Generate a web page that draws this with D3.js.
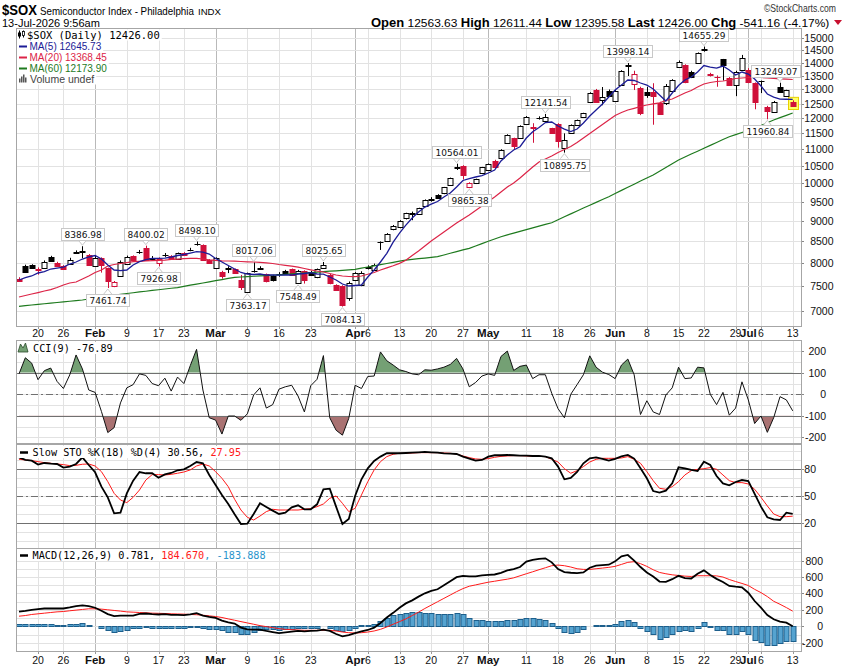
<!DOCTYPE html>
<html><head><meta charset="utf-8">
<script src="https://cdn.jsdelivr.net/npm/d3@7"></script>
<style>body{margin:0;background:#fff}svg{display:block}</style>
</head><body><svg id="c" width="850" height="668"></svg>
<script>
// ---------------- DATA ----------------
const dates = [
"01-14","01-15","01-16","01-20","01-21","01-22","01-23","01-26","01-27","01-28","01-29","01-30",
"02-02","02-03","02-04","02-05","02-06","02-09","02-10","02-11","02-12","02-13","02-17","02-18","02-19","02-20","02-23","02-24","02-25","02-26","02-27",
"03-02","03-03","03-04","03-05","03-06","03-09","03-10","03-11","03-12","03-13","03-16","03-17","03-18","03-19","03-20","03-23","03-24","03-25","03-26","03-27","03-30","03-31",
"04-01","04-02","04-06","04-07","04-08","04-09","04-10","04-13","04-14","04-15","04-16","04-17","04-20","04-21","04-22","04-23","04-24","04-27","04-28","04-29","04-30",
"05-01","05-04","05-05","05-06","05-07","05-08","05-11","05-12","05-13","05-14","05-15","05-18","05-19","05-20","05-21","05-22","05-26","05-27","05-28","05-29",
"06-01","06-02","06-03","06-04","06-05","06-08","06-09","06-10","06-11","06-12","06-15","06-16","06-17","06-18","06-22","06-23","06-24","06-25","06-26","06-29","06-30",
"07-01","07-02","07-06","07-07","07-08","07-09","07-10","07-13"];

const priorClose = 7700;
const open = [
7660,7935,7950,7860,7885,8144,8010,7935,7990,8240,
8262,8190,7935,8110,7885,7500,7710,7980,8160,8245,
8340,8100,8000,8175,8160,8090,8230,8300,8430,8416,
8069,7885,7810,7875,7860,7640,7370,7820,7875,7750,
7720,7760,7830,7862,7560,7820,7800,7688,7885,7740,
7525,7504,7250,7640,7520,7890,7847,8480,8517,8792,
8843,9067,9190,9180,9385,9550,9680,9724,9953,10440,
10496,9905,10000,10300,10380,10650,10720,11200,11340,11340,
11800,11700,11990,11920,11660,11800,11030,11520,11770,12030,
12560,12980,12640,12950,12590,13160,13900,13200,13040,12920,
12900,12510,12510,12950,13855,13930,13660,14010,14530,13560,
13470,14140,13410,13170,13730,13730,13230,13300,12370,12220,
13100,12765,12563.63];
const high = [
7690,7965,7975,7905,8060,8165,8030,7955,8120,8290,
8386.98,8205,8160,8130,7900,7610,8060,8170,8175,8300,
8400.02,8160,8130,8230,8180,8240,8250,8350,8498.10,8430,
8090,8130,7830,7930,7880,7740,7790,8017.06,7930,7770,
7740,7800,7850,7880,7850,7840,7830,7880,8025.65,7760,
7540,7520,7600,7800,7820,7950,7990,8500,8700,8900,
9020,9210,9240,9340,9560,9620,9700,9900,10160,10564.01,
10520,10030,10130,10470,10570,10680,11000,11470,11360,11760,
12070,11830,12060,12141.54,11680,11830,11500,11790,11950,12180,
12900,13020,13090,13000,12980,13720,13998.14,13700,13100,13100,
13230,12560,13200,13380,14100,13950,13700,14420,14655.29,13620,
13520,14160,13460,13700,14320,13800,13260,13330,12420,12590,
13249.07,12990,12611.44];
const low = [
7590,7790,7870,7745,7870,8025,7920,7850,7970,8215,
8110,7940,7920,7790,7461.74,7480,7700,7960,8050,8210,
8050,8060,7926.98,8140,8080,8070,8160,8270,8400,8050,
7980,7870,7660,7780,7760,7420,7363.17,7790,7850,7580,
7600,7700,7760,7720,7548.49,7555,7720,7670,7870,7540,
7400,7084.13,7200,7620,7500,7860,7830,8300,8500,8770,
8820,9040,9020,9160,9360,9500,9580,9700,9930,10380,
10110,9865.38,9980,10280,10360,10440,10700,11180,11000,11320,
11780,11200,11950,11900,11480,11050,10895.75,11500,11750,12010,
12540,12540,12440,12730,12560,13140,13500,12980,12100,12700,
11780,12120,12450,12920,13830,13230,13420,13990,14450,13480,
13100,13330,13140,12760,13700,13230,12300,12870,11960.84,12200,
12880,12740,12395.58];
const close = [
7620,7810,7885,7850,8032,8040,7935,7870,8080,8250,
8270,7957,8108,7960,7610,7590,8032,8144,8069,8250,
8069,8108,8090,8183,8090,8220,8183,8310,8445,8069,
8000,8108,7710,7885,7780,7480,7775,7830,7885,7610,
7630,7770,7790,7740,7830,7630,7740,7862,7957,7561,
7420,7120,7561,7775,7790,7906,7957,8494,8671,8875,
9007,9195,9200,9325,9544,9560,9590,9889,10140,10457,
10240,10017,10110,10457,10555,10460,10980,11450,11100,11740,
12050,11680,12000,12050,11500,11265,11290,11770,11935,12160,
12860,12560,12740,12770,12950,13690,13930,13580,12180,12800,
12750,12140,13130,13350,14050,13290,13450,14380,14540,13540,
13450,13930,13170,13660,14180,13290,12560,13310,12250,12560,
12920,12967.16,12426.00];

const ma5 = [
7631,7684,7717,7782,7810,7869,7891,7913,7980,8025,
8092,8138,8172,8092,7957,7847,7836,7847,7957,8032,
8081,8108,8108,8112,8138,8172,8195,8229,8259,8252,
8205,8103,8025,7946,7869,7793,7760,7749,7760,7738,
7738,7736,7740,7738,7760,7771,7789,7760,7758,7695,
7631,7546,7504,7515,7525,7695,7847,8025,8223,8484,
8702,8897,9075,9229,9358,9437,9504,9624,9733,9897,
10079,10135,10178,10220,10292,10379,10644,10823,10976,11077,
11350,11552,11688,11853,11870,11738,11639,11559,11639,11837,
12071,12275,12483,12729,12981,13164,13350,13331,13238,13164,
13017,12801,12588,12873,13145,13350,13462,13651,13901,13843,
13804,13882,13727,13537,13651,13575,13387,13127,12837,12729,
12658,12650,12645.73];
const ma20 = [
7276,7307,7338,7368,7400,7430,7472,7525,7567,7588,
7652,7717,7793,7847,7935,7969,7991,8013,8032,8041,
8048,8055,8061,8069,8081,8092,8099,8108,8108,8092,
8074,8061,8052,8048,8043,8036,8030,8025,8018,8007,
7991,7969,7951,7931,7909,7880,7852,7825,7804,7771,
7738,7717,7706,7702,7717,7754,7793,7847,7895,7940,
7995,8065,8172,8275,8391,8510,8617,8727,8837,8949,
9050,9152,9268,9385,9504,9624,9760,9897,10008,10149,
10307,10467,10614,10704,10793,10899,10991,11084,11209,11350,
11494,11639,11787,11936,12088,12189,12275,12333,12396,12448,
12490,12524,12605,12658,12765,12873,12963,13091,13201,13256,
13294,13312,13350,13406,13425,13444,13451,13444,13425,13413,
13394,13380,13368.45];
const ma60 = [
7090,7102,7116,7128,7141,7153,7166,7178,7191,7203,
7216,7236,7254,7273,7293,7311,7330,7348,7364,7380,
7395,7411,7426,7442,7457,7472,7496,7521,7544,7568,
7593,7616,7641,7664,7688,7695,7703,7711,7718,7726,
7733,7740,7750,7761,7770,7780,7791,7800,7810,7821,
7830,7840,7851,7862,7888,7913,7940,7966,7991,8018,
8044,8069,8084,8100,8114,8130,8145,8184,8223,8261,
8300,8338,8393,8449,8503,8558,8613,8656,8700,8742,
8785,8829,8871,8914,8957,9032,9108,9182,9257,9333,
9407,9482,9558,9632,9718,9805,9890,9976,10063,10148,
10235,10345,10455,10564,10673,10762,10852,10940,11029,11120,
11211,11302,11392,11460,11528,11596,11663,11754,11845,11936,
12015,12094,12173.90];

const cci = [
95,170,145,68,110,122,60,27,90,183,
118,20,9,-80,-178,-155,-40,30,45,95,
88,50,40,75,15,80,50,133,209,20,
-109,-120,-185,-101,-101,-121,-91,-3,30,-64,
-48,24,35,42,-8,-82,40,70,180,-109,
-167,-190,-112,42,27,83,85,197,156,136,
114,106,95,91,114,112,118,126,139,167,
118,35,55,85,95,88,176,201,111,130,
136,73,91,91,5,-67,-109,0,45,91,
179,126,103,92,73,136,164,91,-94,-30,
-82,-94,-3,30,126,73,76,126,123,0,
-48,9,-97,-64,58,-26,-136,-101,-177,-109,
-11,-26,-76.89];

const stoK = [
93.3,90.4,89.6,85.2,87,86.3,85.9,81.9,83,85.9,
93.3,84.8,76.7,60.7,48.9,31.1,31.9,53.3,67.4,77,
75.6,75.6,70.7,74.4,75.9,78.9,80,83.7,88.1,86.7,
73.7,62.6,51.5,41.5,30,19.3,19.6,30.4,42.2,38.1,
34.1,30.4,31.9,37.8,40,35.6,35.6,41.1,57.8,58.5,
38.5,19.3,24.8,50.4,68.9,81.1,89.3,94.1,97.8,97.8,
97.8,98.1,98.5,98.9,99.3,98.9,98.5,97.8,97.4,97,
94.1,91.9,89.6,90.4,94.1,95.6,95.6,95.9,95.6,95.2,
95.2,94.8,94.8,94.1,92.2,83,68.9,70.4,77,86.7,
92.2,93.3,91.5,89.6,91.5,94.4,95.9,91.9,81.1,70,
55.9,54.1,56.3,64.4,82.2,81.1,79.3,78.1,88.5,84.8,
72.6,64.4,62.2,65.9,68.1,67,52.6,38.5,26.7,24.4,
23.7,31.9,30.56];
const stoD = [
91.1,90.4,89.6,88.5,87.4,86.7,85.9,85.2,84.1,84.4,
85.6,85.9,83.7,77.4,66.3,53.3,45.9,43,48.9,57,
68.1,74.1,74.1,73.7,74.4,75.6,77,79.3,83.7,85.9,
83.7,77.4,70,60.7,46.7,34.8,26.7,23.7,28.1,33,
35.6,34.8,34.8,34.8,34.8,35.6,36.3,38.5,41.5,47.8,
50.4,42.2,33,36.7,51.5,66.3,79.3,88.5,94.1,96.7,
97.8,97.8,98.1,98.5,98.5,98.5,98.5,98.1,97.8,97,
94.8,93,91.5,91.1,91.9,93.3,94.4,94.8,95.2,95.2,
94.8,94.4,94.4,94.1,91.1,88.1,80.7,75.6,78.5,83,
88.1,91.1,92.2,92.2,92.2,92.6,94.1,91.1,86.7,77.4,
67.4,58.9,57.8,60.7,66.3,73.7,78.5,80,80.7,81.9,
80,73.7,67.4,65.2,65.2,63.7,57.8,48.9,39.3,30.4,
27.4,27.4,27.95];

const macd = [
180,189,201,209,217,217,217,217,230,246,
254,246,226,189,148,123,131,131,131,152,
156,148,144,148,139,139,135,144,160,131,
115,103,70,49,33,-16,-37,-41,-41,-57,
-70,-82,-74,-66,-57,-62,-57,-53,-41,-57,
-94,-123,-107,-82,-62,-45,-16,41,107,164,
226,279,316,361,402,431,451,500,549,599,
615,607,607,619,627,631,652,681,697,722,
787,808,820,828,779,697,660,652,648,656,
713,738,746,750,791,853,869,800,722,656,
607,545,541,574,615,586,582,640,681,625,
578,540,491,482,475,409,308,227,138,85,
56,44,0.781];
const macdSignal = [
123,131,144,152,160,168,176,180,189,197,
205,213,213,209,201,193,185,176,172,168,
164,160,158,156,152,150,148,144,141,135,
127,119,107,90,74,57,41,25,8,-4,
-16,-29,-37,-41,-45,-49,-49,-49,-49,-49,
-57,-70,-78,-82,-78,-70,-57,-37,-8,25,
57,90,131,172,217,258,299,340,381,422,
459,488,504,521,537,549,562,574,590,615,
640,664,689,713,738,746,738,722,701,693,
693,701,709,718,730,754,779,787,763,730,
689,656,640,627,619,611,607,616,616,616,
614,600,570,545,522,497,450,410,362,305,
268,228,184.670];
const macdHist = [
33,33,33,33,29,29,20,16,25,25,
37,12,0,-25,-49,-74,-57,-41,-25,-16,
-12,-16,-16,-16,-20,-20,-20,-12,-8,-16,
-29,-33,-49,-70,-74,-98,-90,-66,-41,-33,
-33,-41,-33,-29,-20,-25,-20,-16,8,-16,
-41,-57,-49,-20,12,20,33,66,107,135,
152,164,172,172,168,164,148,148,148,156,
144,107,82,74,66,62,66,74,82,90,
107,98,86,74,41,-16,-74,-78,-66,-33,
8,16,20,20,33,62,82,57,-16,-57,
-98,-156,-131,-90,-57,-49,-53,-16,53,-10,
-45,-45,-94,-94,-57,-94,-167,-187,-228,-228,
-207,-175,-183.888];

const priceTicks = [7000,7500,8000,8500,9000,9500,10000,10500,11000,11500,12000,12500,13000,13500,14000,14500,15000];
const cciTicks = [-200,-100,0,100,200];
const cciGrid = [-200,-150,-100,-50,0,50,100,150,200];
const stoTicks = [20,50,80];
const stoGrid = [0,10,20,30,40,50,60,70,80,90,100];
const macdTicks = [-200,0,200,400,600,800];
const macdGrid = [-300,-200,-100,0,100,200,300,400,500,600,700,800,900];
const tickDates = ["01-20","01-26","02-02","02-09","02-17","02-23","03-02","03-09","03-16","03-23","04-01","04-06","04-13","04-20","04-27","05-01","05-11","05-18","05-26","06-01","06-08","06-15","06-22","06-29","07-01","07-06","07-13"];
const tickLabels = ["20","26","Feb","9","17","23","Mar","9","16","23","Apr","6","13","20","27","May","11","18","26","Jun","8","15","22","29","Jul","6","13"];
const highLabelIdx = [10,20,28,37,48,69,83,96,108,120];
const lowLabelIdx = [14,22,36,44,51,71,86,118];

// ---------------- LAYOUT / STYLE ----------------
const X0 = 16, X1 = 801;
const PR = {top:28, bottom:326}, CC = {top:340, bottom:443}, ST = {top:444, bottom:548}, MC = {top:548, bottom:651};
const RED = "#d0103a", BLK = "#000000";
const fSans = "'Liberation Sans', Arial, Helvetica, sans-serif";
const fNarrow = "'Liberation Sans Narrow','Arial Narrow','Liberation Sans',sans-serif";
const fMono = "'DejaVu Sans Mono','Liberation Mono',monospace";
const fAnn = "'DejaVu Sans', Verdana, sans-serif";
const GRID = "#e2e2e2", GRIDM = "#b9b9b9", FRAME = "#a6a6a6", REF = "#707070";

const svg = d3.select("#c");
svg.append("rect").attr("width",850).attr("height",668).attr("fill","#fff");

const x = d3.scalePoint().domain(dates).range([19, 792.7]);
const yP = d3.scaleLog().domain([6710, 15439]).range([PR.bottom, PR.top]);
const yC = d3.scaleLinear().domain([-226.5, 252.6]).range([CC.bottom, CC.top]);
const yS = d3.scaleLinear().domain([-7.4, 108.1]).range([ST.bottom, ST.top]);
const yM = d3.scaleLinear().domain([-300.9, 953.7]).range([MC.bottom, MC.top]);
const px = d => Math.round(x(d)) + 0.5;

const panels = [PR, CC, ST, MC];

// vertical gridlines
panels.forEach(p => {
  const g = svg.append("g");
  tickDates.forEach((d,i) => {
    const month = isNaN(+tickLabels[i]);
    g.append("line").attr("x1",px(d)).attr("x2",px(d)).attr("y1",p.top).attr("y2",p.bottom)
      .attr("stroke", month ? GRIDM : GRID).attr("stroke-width",1);
  });
});

function hgrid(vals, sc, p){
  const g = svg.append("g");
  vals.forEach(v => {
    const yy = Math.round(sc(v)) + 0.5;
    if (yy < p.top || yy > p.bottom) return;
    g.append("line").attr("x1",X0).attr("x2",X1).attr("y1",yy).attr("y2",yy).attr("stroke",GRID);
  });
}
hgrid(priceTicks, yP, PR);
hgrid(cciGrid, yC, CC);
hgrid(stoGrid, yS, ST);
hgrid(macdGrid, yM, MC);

function refLine(v, sc, dash){
  const yy = Math.round(sc(v)) + 0.5;
  svg.append("line").attr("x1",X0).attr("x2",X1).attr("y1",yy).attr("y2",yy)
    .attr("stroke",REF).attr("stroke-width",1).attr("stroke-dasharray", dash ? "7,3,2,3" : null);
}

// right axis labels
function yLabels(vals, sc, xr){
  const g = svg.append("g").attr("font-family",fSans).attr("font-size","10.5px").attr("fill","#111");
  vals.forEach(v => {
    const yy = Math.round(sc(v)) + 0.5;
    g.append("line").attr("x1",X1).attr("x2",X1+3).attr("y1",yy).attr("y2",yy).attr("stroke","#888");
    g.append("text").attr("x",xr).attr("y",yy+3.8).attr("text-anchor","end").text(v);
  });
}
yLabels(priceTicks, yP, 833.5);
yLabels(cciTicks, yC, 826);
yLabels(stoTicks, yS, 816);
yLabels(macdTicks, yM, 823);

// x axis labels
function xLabels(yBase, p){
  const g = svg.append("g").attr("font-family",fSans).attr("fill","#111").attr("text-anchor","middle");
  tickDates.forEach((d,i) => {
    const month = isNaN(+tickLabels[i]);
    g.append("line").attr("x1",px(d)).attr("x2",px(d)).attr("y1",p.bottom).attr("y2",p.bottom+3).attr("stroke","#999");
    g.append("text").attr("x",x(d)).attr("y",yBase)
      .attr("font-size", month ? "11.5px" : "10.5px").attr("font-weight", month ? "bold" : "normal")
      .text(tickLabels[i]);
  });
}
xLabels(337, PR);
xLabels(664, MC);

// ---------------- PRICE PANEL ----------------
const gP = svg.append("g");
{
  const k = dates.length-1, cx = px(dates[k]);
  gP.append("rect").attr("x",cx-5).attr("y",yP(high[k])-3).attr("width",10).attr("height",yP(low[k])-yP(high[k])+6)
    .attr("fill","#ffff66").attr("stroke","#e8d000").attr("stroke-width",1);
}
dates.forEach((d,k) => {
  const o=open[k], h=high[k], l=low[k], c=close[k];
  const pc = k===0 ? priorClose : close[k-1];
  const col = c < pc ? RED : BLK;
  const cx = px(d);
  gP.append("line").attr("x1",cx).attr("x2",cx).attr("y1",yP(h)).attr("y2",yP(l)).attr("stroke",col);
  const t = Math.round(yP(Math.max(o,c))), b = Math.round(yP(Math.min(o,c)));
  if (b - t < 1) {
    gP.append("line").attr("x1",cx-3).attr("x2",cx+3).attr("y1",t+0.5).attr("y2",t+0.5).attr("stroke",col);
  } else {
    gP.append("rect").attr("x",cx-2.5).attr("y",t+0.5).attr("width",5).attr("height",b-t)
      .attr("fill", c > o ? "#fff" : col).attr("stroke",col).attr("stroke-width",1);
  }
});
const line = (arr, sc) => d3.line().x((v,i)=>x(dates[i])).y(v=>sc(v))(arr);
gP.append("path").attr("d",line(ma60,yP)).attr("fill","none").attr("stroke","#1e7a1e").attr("stroke-width",1.2);
gP.append("path").attr("d",line(ma20,yP)).attr("fill","none").attr("stroke","#dc2447").attr("stroke-width",1.2);
gP.append("path").attr("d",line(ma5,yP)).attr("fill","none").attr("stroke","#1c1c96").attr("stroke-width",1.3);

// annotation labels
const fmt = d3.format(".2f");
function annot(k, isHigh){
  const v = isHigh ? high[k] : low[k];
  const cx = x(dates[k]);
  const yv = yP(v);
  const g = svg.append("g");
  const t = g.append("text").attr("font-family",fAnn).attr("font-size","9px").attr("fill","#111").text(fmt(v));
  const tw = t.node().getComputedTextLength();
  const bw = tw + 6, bh = 12;
  let bx = cx - bw/2;
  bx = Math.min(bx, X1 - bw - 1);
  const by = isHigh ? yv - 6 - bh : yv + 6;
  const tipY = isHigh ? yv - 1 : yv + 1;
  const baseY = isHigh ? by + bh : by;
  g.insert("path","text").attr("d",`M${cx-4},${baseY} L${cx},${tipY} L${cx+4},${baseY}`)
    .attr("fill","#fff").attr("stroke","#c8c8c8");
  g.insert("rect","text").attr("x",Math.round(bx)+0.5).attr("y",Math.round(by)+0.5).attr("width",Math.round(bw)).attr("height",bh)
    .attr("fill","#fff").attr("stroke","#c8c8c8");
  t.attr("x",Math.round(bx)+0.5+bw/2).attr("y",Math.round(by)+9.5).attr("text-anchor","middle");
}
highLabelIdx.forEach(k=>annot(k,true));
lowLabelIdx.forEach(k=>annot(k,false));

// price legend
{
  const g = svg.append("g");
  const rows = [
    {txt:"$SOX (Daily) 12426.00", col:"#000", font:fMono, size:"10.5px", y:38.5, tx:27},
    {txt:"MA(5) 12645.73", col:"#1c1c96", font:fSans, size:"10px", y:50, tx:29.5},
    {txt:"MA(20) 13368.45", col:"#dc2447", font:fSans, size:"10px", y:61, tx:29.5},
    {txt:"MA(60) 12173.90", col:"#1e7a1e", font:fSans, size:"10px", y:72, tx:29.5},
    {txt:"Volume undef", col:"#444", font:fSans, size:"10.5px", y:82.5, tx:30}
  ];
  rows.forEach((r,i) => {
    const bg = g.append("rect");
    const t = g.append("text").attr("x",r.tx).attr("y",r.y).attr("font-family",r.font).attr("font-size",r.size).attr("fill",r.col).text(r.txt);
    const tw = t.node().getComputedTextLength();
    bg.attr("x",X0+1).attr("y",r.y-9).attr("width",r.tx+tw+2-X0-1).attr("height",11).attr("fill","#fff");
    if (i===0) {
      g.append("line").attr("x1",19.5).attr("x2",19.5).attr("y1",r.y-8).attr("y2",r.y).attr("stroke","#000");
      g.append("rect").attr("x",18).attr("y",r.y-6).attr("width",3).attr("height",4).attr("fill","#000");
      g.append("line").attr("x1",23.5).attr("x2",23.5).attr("y1",r.y-8).attr("y2",r.y-1).attr("stroke","#000");
      g.append("rect").attr("x",22.5).attr("y",r.y-7).attr("width",2).attr("height",4).attr("fill","#fff").attr("stroke","#000").attr("stroke-width",0.8);
    } else if (i<4) {
      g.append("line").attr("x1",19).attr("x2",27).attr("y1",r.y-3.5).attr("y2",r.y-3.5).attr("stroke",r.col).attr("stroke-width",2);
    } else {
      [[19,4],[21,6],[23,8],[25,5]].forEach(([bx,bh]) =>
        g.append("rect").attr("x",bx).attr("y",r.y-bh).attr("width",1.5).attr("height",bh).attr("fill","#555"));
    }
  });
}

// ---------------- CCI PANEL ----------------
{
  const g = svg.append("g");
  const defs = svg.append("defs");
  defs.append("clipPath").attr("id","cUp").append("rect").attr("x",X0).attr("y",CC.top).attr("width",X1-X0).attr("height",yC(100)-CC.top);
  defs.append("clipPath").attr("id","cDn").append("rect").attr("x",X0).attr("y",yC(-100)).attr("width",X1-X0).attr("height",CC.bottom-yC(-100));
  const aUp = d3.area().x((v,i)=>x(dates[i])).y0(yC(100)).y1(v=>yC(v));
  const aDn = d3.area().x((v,i)=>x(dates[i])).y0(yC(-100)).y1(v=>yC(v));
  g.append("path").attr("d",aUp(cci)).attr("fill","#74a074").attr("clip-path","url(#cUp)");
  g.append("path").attr("d",aDn(cci)).attr("fill","#a97272").attr("clip-path","url(#cDn)");
  refLine(100,yC,false); refLine(-100,yC,false); refLine(0,yC,true);
  svg.append("path").attr("d",line(cci,yC)).attr("fill","none").attr("stroke","#111").attr("stroke-width",1);
  const lg = svg.append("g");
  const t = lg.append("text").attr("x",33).attr("y",352).attr("font-family",fMono).attr("font-size","10.2px").attr("fill","#000").text("CCI(9) -76.89");
  const tw = t.node().getComputedTextLength();
  lg.insert("rect","text").attr("x",X0+1).attr("y",342).attr("width",33+tw-X0).attr("height",12).attr("fill","#fff");
  lg.append("path").attr("d","M18,352 L20.5,344 L23,348 L25.5,343 L28,352 Z").attr("fill","#74a074").attr("stroke","#2a4a2a").attr("stroke-width",0.8);
}

// ---------------- STO PANEL ----------------
{
  refLine(80,yS,false); refLine(20,yS,false); refLine(50,yS,true);
  svg.append("path").attr("d",line(stoD,yS)).attr("fill","none").attr("stroke","#ff1a1a").attr("stroke-width",1);
  svg.append("path").attr("d",line(stoK,yS)).attr("fill","none").attr("stroke","#000").attr("stroke-width",1.8);
  const lg = svg.append("g").attr("font-family",fMono).attr("font-size","10.2px");
  const t = lg.append("text").attr("x",32.5).attr("y",456);
  t.append("tspan").attr("fill","#000").text("Slow STO %K(18) %D(4) 30.56, ");
  t.append("tspan").attr("fill","#ff1a1a").text("27.95");
  const tw = t.node().getComputedTextLength();
  lg.insert("rect","text").attr("x",X0+1).attr("y",446).attr("width",32.5+tw-X0).attr("height",12).attr("fill","#fff");
  lg.append("line").attr("x1",20).attr("x2",28).attr("y1",452.5).attr("y2",452.5).attr("stroke","#000").attr("stroke-width",2.5);
}

// ---------------- MACD PANEL ----------------
{
  const g = svg.append("g");
  const y0 = yM(0);
  macdHist.forEach((v,k) => {
    const cx = px(dates[k]);
    const yy = yM(v);
    const top = Math.round(Math.min(y0,yy)), bot = Math.round(Math.max(y0,yy));
    if (bot - top < 1) return;
    g.append("rect").attr("x",cx-2.5).attr("y",top+0.5).attr("width",5).attr("height",bot-top)
      .attr("fill","#55a3d0").attr("stroke","#1d5f8c").attr("stroke-width",1);
  });
  svg.append("path").attr("d",line(macdSignal,yM)).attr("fill","none").attr("stroke","#ff1a1a").attr("stroke-width",1);
  svg.append("path").attr("d",line(macd,yM)).attr("fill","none").attr("stroke","#000").attr("stroke-width",1.8);
  const lg = svg.append("g").attr("font-family",fMono).attr("font-size","10.2px");
  const t = lg.append("text").attr("x",32.5).attr("y",559);
  t.append("tspan").attr("fill","#000").text("MACD(12,26,9) 0.781, ");
  t.append("tspan").attr("fill","#ff1a1a").text("184.670");
  t.append("tspan").attr("fill","#2a94cc").text(", -183.888");
  const tw = t.node().getComputedTextLength();
  lg.insert("rect","text").attr("x",X0+1).attr("y",549).attr("width",32.5+tw-X0).attr("height",12).attr("fill","#fff");
  lg.append("line").attr("x1",20).attr("x2",28).attr("y1",555.5).attr("y2",555.5).attr("stroke","#000").attr("stroke-width",2.5);
}

// frames
panels.forEach(p => {
  svg.append("rect").attr("x",X0+0.5).attr("y",p.top+0.5).attr("width",X1-X0).attr("height",p.bottom-p.top)
    .attr("fill","none").attr("stroke",FRAME);
});

// ---------------- HEADER ----------------
// fitted text: horizontally scaled via transform so its box matches the target width
function fitText(parent, xPos, yPos, w, build){
  const g = parent.append("g");
  const t = g.append("text").attr("x",0).attr("y",0);
  build(t);
  const nat = t.node().getComputedTextLength();
  const sx = Math.min(1.2, w / nat);
  g.attr("transform", `translate(${xPos},${yPos}) scale(${sx},1)`);
  return t;
}
{
  const g = svg.append("g").attr("font-family",fNarrow).attr("fill","#000");
  fitText(g, 2, 15, 35, t => t.attr("font-size","14.5px").attr("font-weight","bold").text("$SOX"));
  fitText(g, 40, 15, 154, t => t.attr("font-size","11px").text("Semiconductor Index - Philadelphia"));
  fitText(g, 198, 15, 23, t => t.attr("font-size","9px").text("INDX"));
  fitText(g, 2, 26.5, 98, t => t.attr("font-size","10.5px").text("13-Jul-2026 9:56am"));
  fitText(g, 764, 12, 72, t => t.attr("font-size","10.5px").attr("fill","#333").text("\u00A9StockCharts.com"));
  fitText(g, 371, 26.5, 459, t => {
    t.attr("font-size","12px");
    const parts = [["Open",1],[" 12563.63 ",0],["High",1],[" 12611.44 ",0],["Low",1],[" 12395.58 ",0],["Last",1],[" 12426.00 ",0],["Chg",1],[" -541.16 (-4.17%)",0]];
    parts.forEach(([s,b]) => t.append("tspan").attr("font-weight",b?"bold":"normal").attr("font-size",b?"12.5px":"11.5px").attr("xml:space","preserve").text(s));
  });
  g.append("path").attr("d","M834,20 L842,20 L838,25 Z").attr("fill","#c8102e");
}
</script>
</body></html>
